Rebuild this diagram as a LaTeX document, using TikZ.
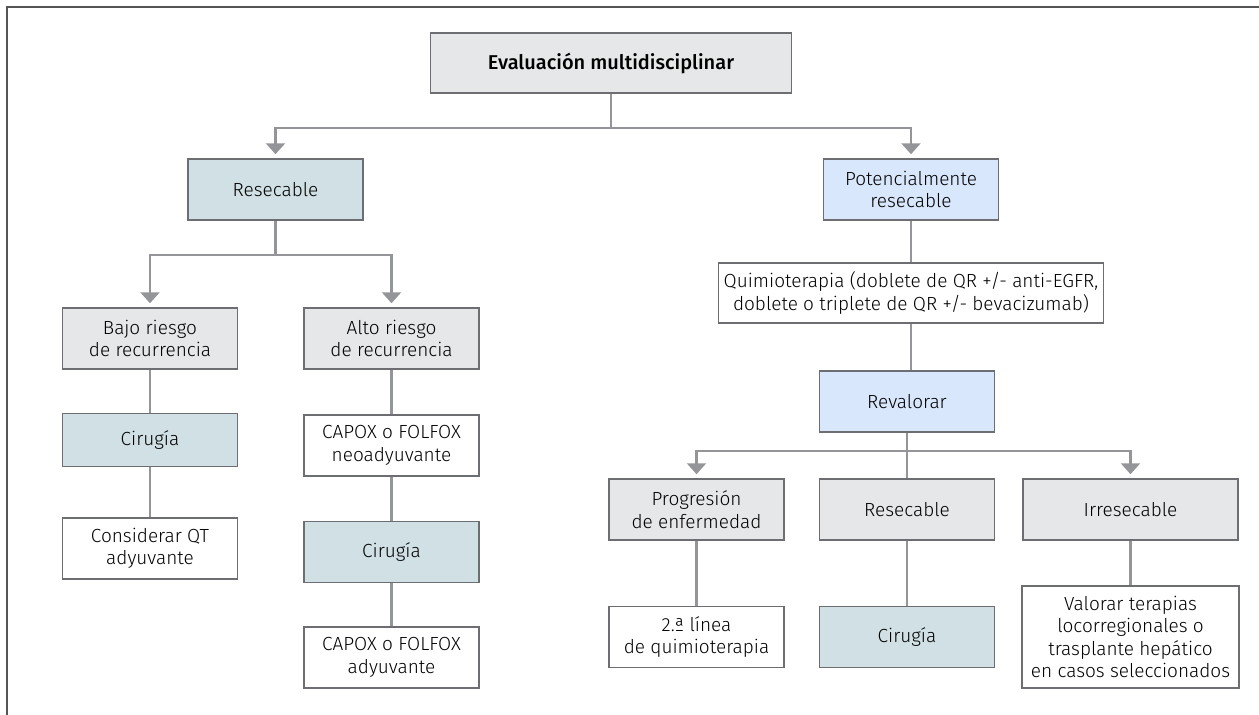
\documentclass[tikz,border=0pt]{standalone}
\usepackage{fontspec}
\setmainfont{Fira Sans}[UprightFont={* Light}, BoldFont={* Medium}]
\usepackage{xcolor}
\usepackage{tikz}
\usetikzlibrary{positioning}
\usetikzlibrary{arrows.meta}
\definecolor{boxgrey}{RGB}{230,231,232}
\definecolor{boxteal}{RGB}{208,224,228}
\definecolor{boxblue}{RGB}{216,231,251}
\definecolor{edgegrey}{RGB}{109,110,113}
\definecolor{linegrey}{RGB}{147,149,152}
\definecolor{framegrey}{RGB}{85,85,85}
\tikzstyle{block}     = [rectangle, draw=edgegrey, line width=1.5pt, fill=white, align=center, text centered, minimum width=175pt, minimum height=61pt, inner sep=2pt, text=black, font=\fontsize{19}{22.5}\selectfont]
\tikzstyle{greyblock} = [block, fill=boxgrey]
\tikzstyle{tealblock} = [block, fill=boxteal]
\tikzstyle{blueblock} = [block, fill=boxblue]
\tikzstyle{line}      = [draw=linegrey, line width=2.5pt, -{Triangle[width=19pt,length=11pt]}, shorten >=4pt]
\tikzstyle{stem}      = [draw=linegrey, line width=2.5pt]

\begin{document}
\begin{tikzpicture}[node distance=2cm, auto]
        \useasboundingbox (0,0) rectangle (1259pt,-715pt);
        \draw [framegrey, line width=2pt] (7pt,-716pt) -- (7pt,-7pt) -- (1260pt,-7pt);
        \node [greyblock, minimum width=361pt, minimum height=60pt, font=\fontsize{20}{22}\selectfont\bfseries] (eval) at (611pt,-63pt) {Evaluación multidisciplinar};
        \node [tealblock, below of=eval, node distance=126.5pt, xshift=-335.5pt] (res) {Resecable};
        \node [blueblock, right of=res, node distance=635.5pt] (pot) {Potencialmente\\resecable};
        \node [greyblock, below of=res, node distance=149pt, xshift=-125.5pt] (bajo) {Bajo riesgo\\de recurrencia};
        \node [greyblock, right of=bajo, node distance=241.5pt] (alto) {Alto riesgo\\de recurrencia};
        \node [tealblock, below of=bajo, node distance=101.5pt, minimum height=53pt] (cir1) {Cirugía};
        \node [block, below of=cir1, node distance=108.5pt] (cons) {Considerar QT\\adyuvante};
        \node [block, below of=alto, node distance=107pt] (neo) {CAPOX o FOLFOX\\neoadyuvante};
        \node [tealblock, below of=neo, node distance=106.5pt] (cir2) {Cirugía};
        \node [block, below of=cir2, node distance=105.5pt] (capadj) {CAPOX o FOLFOX\\adyuvante};
        \node [block, below of=pot, node distance=103.5pt, minimum width=385pt, minimum height=60pt] (quimio) {Quimioterapia (doblete de QR +/- anti-EGFR,\\doblete o triplete de QR +/- bevacizumab)};
        \node [blueblock, below of=quimio, node distance=108.5pt, xshift=-4pt] (reval) {Revalorar};
        \node [greyblock, below of=reval, node distance=108pt] (res2) {Resecable};
        \node [greyblock, left of=res2, node distance=210.5pt] (prog) {Progresión\\de enfermedad};
        \node [greyblock, right of=res2, node distance=223.5pt, minimum width=215pt] (irr) {Irresecable};
        \node [block, below of=prog, node distance=127.5pt] (linea) {2.ª línea\\de quimioterapia};
        \node [tealblock, below of=res2, node distance=127.5pt] (cir3) {Cirugía};
        \node [block, below of=irr, node distance=127.5pt, minimum width=217pt, minimum height=102pt] (valorar) {Valorar terapias\\locorregionales o\\trasplante hepático\\en casos seleccionados};
        \path [line] (eval.south) -- ++(0,-34pt) -| (res.north);
        \path [line] (eval.south) -- ++(0,-34pt) -| (pot.north);
        \path [line] (res.south) -- ++(0,-34pt) -| (bajo.north);
        \path [line] (res.south) -- ++(0,-34pt) -| (alto.north);
        \path [stem] (bajo.south) -- (cir1.north);
        \path [stem] (cir1.south) -- (cons.north);
        \path [stem] (alto.south) -- (neo.north);
        \path [stem] (neo.south) -- (cir2.north);
        \path [stem] (cir2.south) -- (capadj.north);
        \path [stem] (pot.south) -- (quimio.north);
        \path [stem] (quimio.south) -- (quimio.south |- reval.north);
        \path [line] (reval.south) -- ++(0,-18pt) -| (prog.north);
        \path [line] (reval.south) -- ++(0,-18pt) -| (irr.north);
        \path [stem] (reval.south) -- (res2.north);
        \path [stem] (prog.south) -- (linea.north);
        \path [stem] (res2.south) -- (cir3.north);
        \path [stem] (irr.south) -- (valorar.north);
    \end{tikzpicture}
\end{document}
